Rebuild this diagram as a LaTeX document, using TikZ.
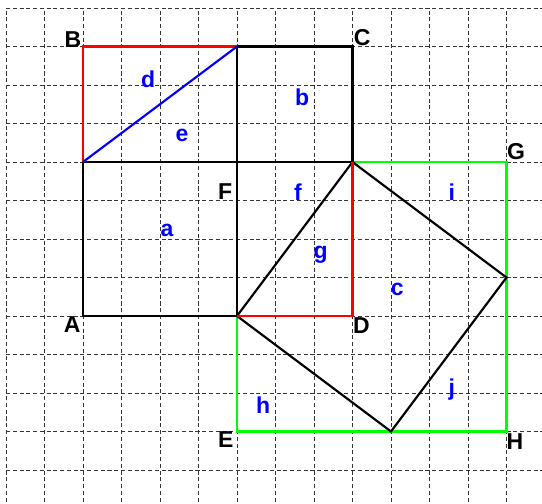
\documentclass[tikz,border=0pt]{standalone}
\usepackage{fontspec}
\setmainfont{Liberation Sans}
\usepackage{xcolor}
\usepackage{tikz}
\usetikzlibrary{positioning}

\begin{document}
\begin{tikzpicture}[x=1cm,y=1cm,
  grd/.style={densely dashed,thin,black!80,dash pattern=on 3pt off 2pt},
  edge/.style={line width=1.6pt,black},
  redge/.style={line width=1.6pt,red},
  gedge/.style={line width=1.6pt,green},
  bedge/.style={line width=1.6pt,blue},
  pt/.style={font=\fontsize{17}{18}\selectfont\bfseries,inner sep=0pt},
  nm/.style={font=\fontsize{17}{18}\selectfont\bfseries,text=blue,inner sep=0pt}]
  \useasboundingbox (-2.156,-4.883) rectangle (11.922,8.208);
  \clip (-2.156,-4.883) rectangle (11.922,8.208);
  \draw[grd] (-2,-5) grid (12,8);
  % points
  \coordinate (A) at (0,0);\coordinate (B) at (0,7);\coordinate (C) at (7,7);
  \coordinate (D) at (7,0);\coordinate (E) at (4,-3);\coordinate (F) at (4,4);
  \coordinate (G) at (11,4);\coordinate (H) at (11,-3);
  \coordinate (P) at (4,7);\coordinate (Q) at (0,4);\coordinate (R) at (4,0);
  \coordinate (S) at (7,4);\coordinate (T) at (11,1);\coordinate (U) at (8,-3);
  % squares
  \draw[gedge](S)--(G)--(H)--(E)--(R);
  \draw[edge](A)--(R)--(F)--(Q)--cycle;
  \draw[edge](F)--(S)--(C)--(P)--(F);
  \draw[edge](R)--(S)--(T)--(U)--cycle;
  \draw[redge](Q)--(B)--(P);
  \draw[redge](R)--(D)--(S);
  \draw[bedge](Q)--(P);
  % labels
  \node[pt] at (-0.28,-0.23){A};\node[pt] at (-0.26,7.19){B};
  \node[pt] at (7.25,7.22){C};\node[pt] at (7.23,-0.26){D};
  \node[pt] at (3.71,-3.22){E};\node[pt] at (3.69,3.22){F};
  \node[pt] at (11.25,4.26){G};\node[pt] at (11.22,-3.25){H};
  \node[nm] at (2.18,2.23){a};\node[nm] at (5.69,5.69){b};
  \node[nm] at (8.16,0.68){c};\node[nm] at (1.69,6.16){d};
  \node[nm] at (2.57,4.68){e};\node[nm] at (5.58,3.22){f};
  \node[nm] at (6.17,1.60){g};\node[nm] at (4.68,-2.31){h};
  \node[nm] at (9.58,3.22){i};\node[nm] at (9.58,-1.90){j};
\end{tikzpicture}
\end{document}
